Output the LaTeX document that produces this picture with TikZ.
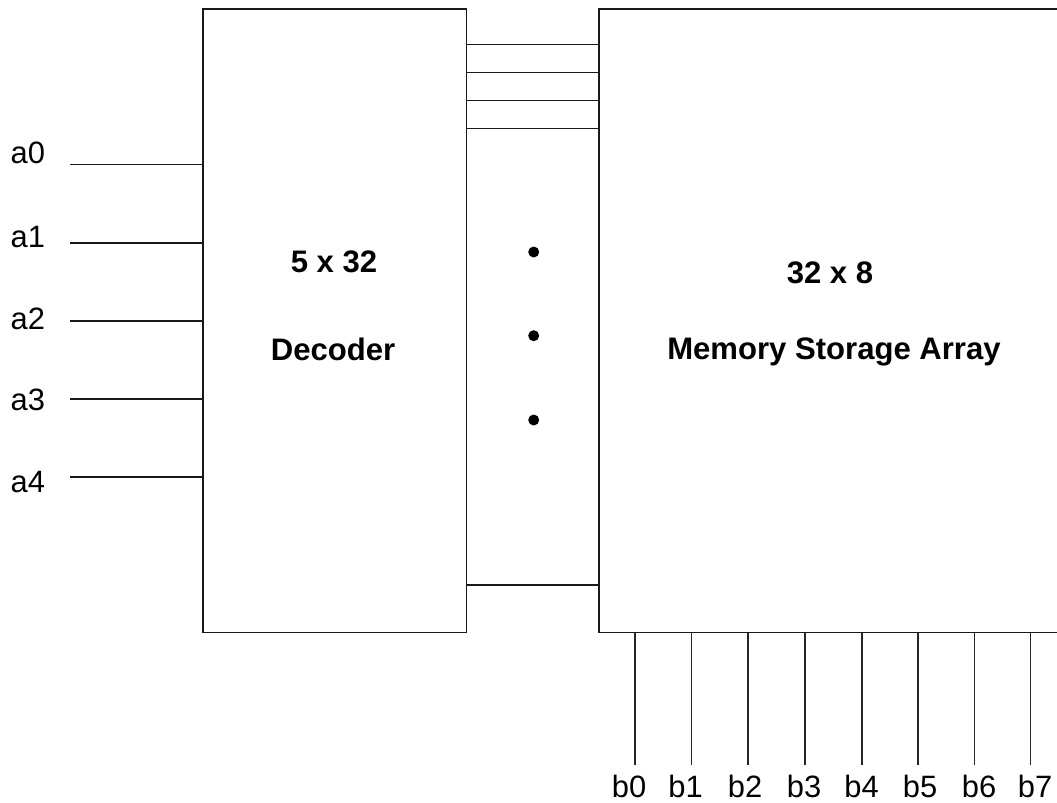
\documentclass[tikz,border=0pt]{standalone}
\usepackage{fontspec}
\setmainfont{Liberation Sans}
\usetikzlibrary{calc}
\begin{document}
\begin{tikzpicture}[x=1bp,y=-1bp,
  box/.style={draw=black!90,line width=1.6bp,rectangle,inner sep=0pt,outer sep=0pt},
  wire/.style={draw=black!90,line width=1.6bp},
  owire/.style={draw=black!85,line width=1.2bp},
  lbl/.style={inner sep=0pt,text depth=0pt,font=\fontsize{31}{36}\selectfont},
  blbl/.style={inner sep=0pt,anchor=base,font=\fontsize{31.2}{36}\selectfont\bfseries},
  vdot/.style={circle,fill=black,inner sep=0pt,minimum size=11bp}]
\useasboundingbox (0,0) rectangle (1057,803);
% boxes
\node[box,minimum width=263.5bp,minimum height=623.5bp] (dec) at (334.75,320.75) {};
\node[box,minimum width=467bp,minimum height=623.5bp] (mem) at (832.5,320.75) {};
% box texts
\node[blbl] (dt1) at (334,272.3) {5 x 32};
\node[blbl] (dt2) at (333,360.7) {Decoder};
\node[blbl] (mt1) at (830,283.3) {32 x 8};
\node[blbl] (mt2) at (834,359) {Memory Storage Array};
% connecting lines
\foreach \y/\n in {44.7/1,72.7/2,100.6/3,128.5/4,584.7/5}{
  \coordinate (c\n) at (0,\y);
  \draw[wire] (dec.east |- c\n) -- (mem.west |- c\n);
}
% dots
\node[vdot] (d1) at (533.7,252) {};
\node[vdot] (d2) at (533.7,335.7) {};
\node[vdot] (d3) at (533.7,420) {};
% inputs
\foreach \i/\y/\b in {0/164.3/163.5,1/242.7/247,2/321/329.5,3/398.7/410,4/476.7/492}{
  \coordinate (in\i) at (70,\y);
  \draw[wire] (in\i) -- (dec.west |- in\i);
  \node[lbl,anchor=base west] (a\i) at (10.5,\b) {a\i};
}
% outputs
\foreach \i/\x/\lx in {0/635/629,1/691.7/685.5,2/748/745,3/805/804,4/862/861.5,5/918/920,6/974.3/979,7/1030.7/1035}{
  \coordinate (out\i) at (\x,765);
  \draw[owire] (mem.south -| out\i) -- (out\i);
  \node[lbl,anchor=base] (b\i) at (\lx,797) {b\i};
}
\end{tikzpicture}
\end{document}
